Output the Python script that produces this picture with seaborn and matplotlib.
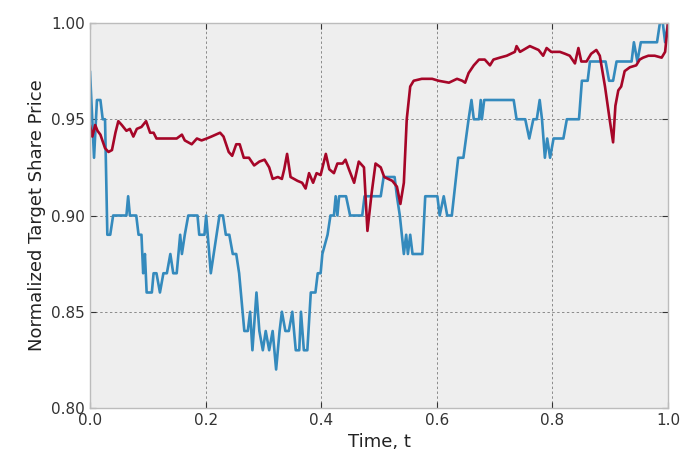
import matplotlib
matplotlib.use("Agg")
import matplotlib.pyplot as plt
import seaborn as sns
import pandas as pd
import numpy as np

# blue series: stepped price path
blue_t = [0.000, 0.007, 0.012, 0.018, 0.022, 0.026, 0.030, 0.035, 0.040, 0.063,
          0.066, 0.069, 0.080, 0.084, 0.089, 0.092, 0.095, 0.098, 0.107, 0.110,
          0.115, 0.121, 0.127, 0.133, 0.139, 0.144, 0.150, 0.156, 0.159, 0.164,
          0.170, 0.186, 0.189, 0.198, 0.201, 0.209, 0.224, 0.230, 0.235, 0.241,
          0.247, 0.253, 0.258, 0.267, 0.273, 0.277, 0.281, 0.288, 0.293, 0.299,
          0.304, 0.310, 0.316, 0.322, 0.328, 0.332, 0.338, 0.344, 0.350, 0.356,
          0.362, 0.365, 0.370, 0.376, 0.382, 0.390, 0.394, 0.399, 0.402, 0.411,
          0.416, 0.422, 0.425, 0.428, 0.431, 0.443, 0.450, 0.471, 0.475, 0.503,
          0.508, 0.527, 0.531, 0.536, 0.543, 0.547, 0.550, 0.554, 0.558, 0.575,
          0.580, 0.601, 0.605, 0.612, 0.618, 0.626, 0.637, 0.646, 0.655, 0.660,
          0.664, 0.673, 0.676, 0.678, 0.682, 0.733, 0.738, 0.753, 0.760, 0.767,
          0.773, 0.778, 0.782, 0.787, 0.791, 0.796, 0.802, 0.819, 0.825, 0.846,
          0.851, 0.861, 0.865, 0.892, 0.898, 0.905, 0.911, 0.937, 0.941, 0.947,
          0.953, 0.981, 0.986, 0.991, 0.995, 1.000]
blue_v = [0.975, 0.930, 0.960, 0.960, 0.950, 0.950, 0.890, 0.890, 0.900, 0.900,
          0.910, 0.900, 0.900, 0.890, 0.890, 0.870, 0.880, 0.860, 0.860, 0.870,
          0.870, 0.860, 0.870, 0.870, 0.880, 0.870, 0.870, 0.890, 0.880, 0.890,
          0.900, 0.900, 0.890, 0.890, 0.900, 0.870, 0.900, 0.900, 0.890, 0.890,
          0.880, 0.880, 0.870, 0.840, 0.840, 0.850, 0.830, 0.860, 0.840, 0.830,
          0.840, 0.830, 0.840, 0.820, 0.840, 0.850, 0.840, 0.840, 0.850, 0.830,
          0.830, 0.850, 0.830, 0.830, 0.860, 0.860, 0.870, 0.870, 0.880, 0.890,
          0.900, 0.900, 0.910, 0.900, 0.910, 0.910, 0.900, 0.900, 0.910, 0.910,
          0.920, 0.920, 0.910, 0.900, 0.880, 0.890, 0.880, 0.890, 0.880, 0.880,
          0.910, 0.910, 0.900, 0.910, 0.900, 0.900, 0.930, 0.930, 0.950, 0.960,
          0.950, 0.950, 0.960, 0.950, 0.960, 0.960, 0.950, 0.950, 0.940, 0.950,
          0.950, 0.960, 0.950, 0.930, 0.940, 0.930, 0.940, 0.940, 0.950, 0.950,
          0.970, 0.970, 0.980, 0.980, 0.970, 0.970, 0.980, 0.980, 0.990, 0.980,
          0.990, 0.990, 1.000, 1.000, 0.990, 1.000]

# red series: smoother price path
red_t = [0.000, 0.004, 0.009, 0.013, 0.018, 0.026, 0.032, 0.038, 0.044, 0.049,
         0.055, 0.063, 0.069, 0.075, 0.081, 0.089, 0.097, 0.104, 0.110, 0.115,
         0.141, 0.150, 0.159, 0.164, 0.176, 0.185, 0.193, 0.202, 0.210, 0.225,
         0.231, 0.240, 0.246, 0.253, 0.259, 0.266, 0.275, 0.284, 0.293, 0.302,
         0.310, 0.316, 0.325, 0.332, 0.336, 0.341, 0.347, 0.359, 0.367, 0.373,
         0.379, 0.386, 0.392, 0.399, 0.408, 0.414, 0.422, 0.428, 0.437, 0.442,
         0.448, 0.457, 0.465, 0.474, 0.480, 0.487, 0.494, 0.503, 0.509, 0.523,
         0.531, 0.537, 0.543, 0.548, 0.554, 0.560, 0.574, 0.592, 0.603, 0.621,
         0.635, 0.644, 0.649, 0.655, 0.664, 0.673, 0.683, 0.692, 0.698, 0.709,
         0.721, 0.735, 0.738, 0.744, 0.761, 0.776, 0.784, 0.790, 0.798, 0.813,
         0.822, 0.830, 0.839, 0.845, 0.850, 0.859, 0.867, 0.876, 0.882, 0.891,
         0.899, 0.905, 0.909, 0.914, 0.919, 0.925, 0.934, 0.945, 0.951, 0.957,
         0.966, 0.977, 0.989, 0.995, 1.000]
red_v = [0.947, 0.941, 0.947, 0.944, 0.942, 0.935, 0.933, 0.934, 0.943, 0.949,
         0.947, 0.944, 0.945, 0.941, 0.945, 0.946, 0.949, 0.943, 0.943, 0.940,
         0.940, 0.940, 0.942, 0.939, 0.937, 0.940, 0.939, 0.940, 0.941, 0.943,
         0.941, 0.933, 0.931, 0.937, 0.937, 0.930, 0.930, 0.926, 0.928, 0.929,
         0.925, 0.919, 0.920, 0.919, 0.924, 0.932, 0.920, 0.918, 0.917, 0.914,
         0.922, 0.917, 0.922, 0.921, 0.932, 0.924, 0.922, 0.927, 0.927, 0.929,
         0.924, 0.917, 0.928, 0.925, 0.892, 0.911, 0.927, 0.925, 0.920, 0.918,
         0.915, 0.906, 0.917, 0.950, 0.967, 0.970, 0.971, 0.971, 0.970, 0.969,
         0.971, 0.970, 0.969, 0.974, 0.978, 0.981, 0.981, 0.978, 0.981, 0.982,
         0.983, 0.985, 0.988, 0.985, 0.988, 0.986, 0.983, 0.987, 0.985, 0.985,
         0.984, 0.983, 0.979, 0.987, 0.980, 0.980, 0.984, 0.986, 0.983, 0.967,
         0.950, 0.938, 0.957, 0.965, 0.967, 0.975, 0.977, 0.978, 0.981, 0.982,
         0.983, 0.983, 0.982, 0.985, 1.000]

x_ticks = [0.0, 0.2, 0.4, 0.6, 0.8, 1.0]
y_ticks = [0.80, 0.85, 0.90, 0.95, 1.00]

df = pd.concat([
    pd.DataFrame({"t": blue_t, "price": blue_v, "series": "blue"}),
    pd.DataFrame({"t": red_t, "price": red_v, "series": "red"}),
], ignore_index=True)

sns.set_style("whitegrid", {
    "axes.facecolor": "#EEEEEE",
    "axes.edgecolor": "#BCBCBC",
    "grid.color": "#8A8A8A",
    "grid.linestyle": "--",
    "xtick.direction": "in",
    "ytick.direction": "in",
    "xtick.bottom": True,
    "xtick.top": True,
    "ytick.left": True,
    "ytick.right": True,
})
plt.rcParams["font.family"] = ["DejaVu Sans"]

fig = plt.figure(figsize=(6.83, 4.62), dpi=100)
ax = fig.add_axes([90 / 683, 1 - 408 / 462, 578 / 683, 385 / 462])

sns.lineplot(data=df, x="t", y="price", hue="series",
             palette={"blue": "#348ABD", "red": "#A60628"},
             estimator=None, linewidth=1.9, legend=False, ax=ax)

ax.set_xlim(0, 1)
ax.set_ylim(0.80, 1.00)
ax.set_xticks(x_ticks)
ax.set_yticks(y_ticks)
ax.set_xticklabels([f"{v:.1f}" for v in x_ticks])
ax.set_yticklabels([f"{v:.2f}" for v in y_ticks])
ax.grid(True, linestyle=(0, (2.5, 2.5)), linewidth=0.7, color="#8A8A8A")
ax.tick_params(axis="both", which="both", direction="in", length=4, width=0.8,
               color="#333333", labelsize=11, labelcolor="#333333",
               top=True, right=True)
for s in ax.spines.values():
    s.set_color("#BCBCBC")
    s.set_linewidth(1.0)

ax.set_xlabel("Time, t", fontsize=13, color="#222222")
ax.set_ylabel("Normalized Target Share Price", fontsize=13, color="#222222")

fig.savefig("out.png", dpi=100)
